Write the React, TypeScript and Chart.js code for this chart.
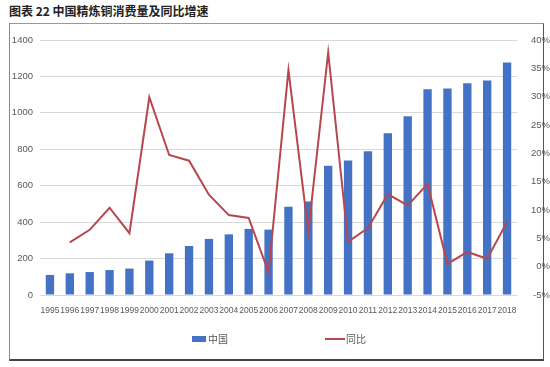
import React, { useEffect, useRef } from "react";
import { Chart, registerables } from "chart.js";

Chart.register(...registerables);

const years = ["1995","1996","1997","1998","1999","2000","2001","2002","2003","2004","2005","2006","2007","2008","2009","2010","2011","2012","2013","2014","2015","2016","2017","2018"];
const consumption = [110,119,126,137,145,189,229,269,308,333,363,359,485,513,709,738,789,888,982,1130,1134,1163,1178,1276];
const yoyPct = [null,4.3,6.5,10.4,5.9,29.9,19.7,18.7,12.7,9.1,8.6,-1.0,34.7,6.2,37.8,4.4,6.8,12.8,10.8,14.6,0.5,2.6,1.4,7.9];
const titleText = "图表 22 中国精炼铜消费量及同比增速";
const barLabel = "中国";
const lineLabel = "同比";

const BAR_COLOR = "#4472c4";
const LINE_COLOR = "#b8474d";
const FAMILY = "'Liberation Sans', Arial, sans-serif";
const TICK_FONT = { family: FAMILY, size: 9.5 };
const X_FONT = { family: FAMILY, size: 8.5 };

export default function App() {
  const ref = useRef<HTMLCanvasElement | null>(null);
  useEffect(() => {
    if (!ref.current) return;
    const chart = new Chart(ref.current, {
      data: {
        labels: years,
        datasets: [
          {
            type: "line",
            label: lineLabel,
            data: yoyPct as any,
            yAxisID: "y1",
            borderColor: LINE_COLOR,
            backgroundColor: LINE_COLOR,
            borderWidth: 2,
            pointRadius: 0,
            tension: 0,
            spanGaps: false,
            order: 0,
          },
          {
            type: "bar",
            label: barLabel,
            data: consumption,
            yAxisID: "y",
            backgroundColor: BAR_COLOR,
            barPercentage: 0.42,
            categoryPercentage: 1,
            order: 1,
          },
        ],
      } as any,
      options: {
        responsive: false,
        animation: false,
        devicePixelRatio: 1,
        layout: { padding: { left: 0, right: 0, top: 40, bottom: 52 } },
        plugins: { legend: { display: false }, tooltip: { enabled: false } },
        scales: {
          x: {
            grid: { display: false, drawTicks: false },
            border: { display: false },
            ticks: { font: X_FONT, color: "#595959", autoSkip: false, maxRotation: 0, minRotation: 0, padding: 11 },
            afterFit: (s: any) => { s.height = 20; },
          },
          y: {
            position: "left",
            min: 0,
            max: 1400,
            grid: { color: "#d9d9d9", lineWidth: 1, drawTicks: false },
            border: { display: false },
            ticks: { stepSize: 200, font: TICK_FONT, color: "#595959", padding: 7, callback: (v: any) => `${v}` },
            afterFit: (s: any) => { s.width = 40; },
          },
          y1: {
            position: "right",
            min: -5,
            max: 40,
            grid: { display: false, drawTicks: false },
            border: { display: false },
            ticks: { stepSize: 5, font: TICK_FONT, color: "#595959", padding: 4, crossAlign: "far", callback: (v: any) => `${v}%` },
            afterFit: (s: any) => { s.width = 33; },
          },
        },
      } as any,
    });
    return () => chart.destroy();
  }, []);

  const legendText: React.CSSProperties = {
    position: "absolute",
    top: 332,
    fontFamily: "'Noto Sans CJK SC', sans-serif",
    fontSize: 10,
    color: "#595959",
    lineHeight: "14px",
  };

  return (
    <div style={{ position: "absolute", left: 0, top: 0, width: 550, height: 367, background: "#fff", overflow: "hidden" }}>
      <div style={{ position: "absolute", left: 9, top: 2, fontFamily: "'Noto Sans CJK SC', sans-serif", fontWeight: 700, fontSize: 12, color: "#222", whiteSpace: "pre", lineHeight: "18px" }}>
        {titleText}
      </div>
      <div style={{ position: "absolute", left: 9, top: 23, width: 535, height: 338, boxSizing: "border-box", borderLeft: "1px solid #888", borderTop: "1px solid #999", borderRight: "1px solid #555", borderBottom: "2px solid #444" }} />
      <canvas ref={ref} width={550} height={367} style={{ position: "absolute", left: 0, top: 0, width: 550, height: 367 }} />
      <div style={{ position: "absolute", left: 192, top: 336, width: 14, height: 6, background: BAR_COLOR }} />
      <div style={{ ...legendText, left: 208 }}>{barLabel}</div>
      <div style={{ position: "absolute", left: 325, top: 338, width: 20, height: 2, background: LINE_COLOR }} />
      <div style={{ ...legendText, left: 346 }}>{lineLabel}</div>
    </div>
  );
}
